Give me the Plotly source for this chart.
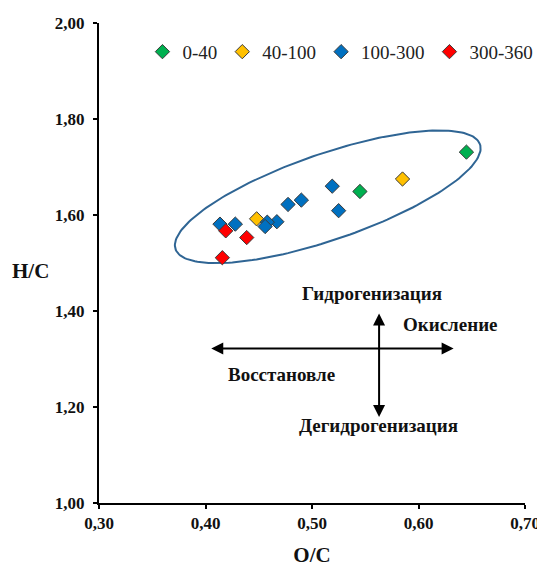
import numpy as np
import plotly.graph_objects as go

# ---- data ----
series_names = ["0-40", "40-100", "100-300", "300-360"]
series_colors = ["#00B050", "#FFC000", "#0070C0", "#FF0000"]
x_0_40 = [0.645, 0.545]
y_0_40 = [1.731, 1.649]
x_40_100 = [0.585, 0.448]
y_40_100 = [1.675, 1.592]
x_100_300 = [0.519, 0.525, 0.490, 0.4775, 0.467, 0.458, 0.456, 0.428, 0.4136]
y_100_300 = [1.660, 1.609, 1.631, 1.622, 1.586, 1.585, 1.576, 1.581, 1.581]
x_300_360 = [0.419, 0.4387, 0.4158]
y_300_360 = [1.567, 1.553, 1.511]
x_ticks = [0.30, 0.40, 0.50, 0.60, 0.70]
y_ticks = [1.00, 1.20, 1.40, 1.60, 1.80, 2.00]

xs = [x_0_40, x_40_100, x_100_300, x_300_360]
ys = [y_0_40, y_40_100, y_100_300, y_300_360]

# page body adds an 8px margin, so the figure is slightly smaller than the window
W, H = 537, 559
ML, MR, MT, MB = 91, 20, 15, 64
X_RANGE = [0.30, 0.70]
Y_RANGE = [1.00, 2.00]
PX_X = (W - ML - MR) / (X_RANGE[1] - X_RANGE[0])
PX_Y = (H - MT - MB) / (Y_RANGE[1] - Y_RANGE[0])

FONT = "Liberation Serif, Times New Roman, serif"

fig = go.Figure()

# ellipse (decoration)
cx, cy = 0.5148, 1.638
a_px, b_px, theta = 161.0, 43.0, np.deg2rad(19)
t = np.linspace(0, 2 * np.pi, 200)
dx = a_px * np.cos(t) * np.cos(theta) - b_px * np.sin(t) * np.sin(theta)
dy = a_px * np.cos(t) * np.sin(theta) + b_px * np.sin(t) * np.cos(theta)
fig.add_trace(go.Scatter(x=cx + dx / PX_X, y=cy + dy / PX_Y, mode="lines",
                         line=dict(color="#2F6594", width=2),
                         showlegend=False, hoverinfo="skip"))

for name, col, xv, yv in zip(series_names, series_colors, xs, ys):
    fig.add_trace(go.Scatter(x=xv, y=yv, mode="markers", name=name,
                             marker=dict(symbol="diamond", size=11, color=col,
                                         line=dict(color="#3A3A3A", width=1))))

# arrows
arrow_style = dict(showarrow=True, text="", arrowhead=2, arrowsize=1.2, arrowwidth=2,
                   arrowcolor="black", arrowside="end+start", axref="x", ayref="y",
                   xref="x", yref="y", standoff=0, startstandoff=0)
fig.add_annotation(x=0.633, y=1.322, ax=0.404, ay=1.322, **arrow_style)
fig.add_annotation(x=0.563, y=1.395, ax=0.563, ay=1.176, **arrow_style)

lab_font = dict(family=FONT, size=19, color="#111", weight="bold")
fig.add_annotation(x=0.556, y=1.437, text="Гидрогенизация", showarrow=False, font=lab_font)
fig.add_annotation(x=0.630, y=1.371, text="Окисление", showarrow=False, font=lab_font)
fig.add_annotation(x=0.471, y=1.267, text="Восстановле", showarrow=False, font=lab_font)
fig.add_annotation(x=0.562, y=1.161, text="Дегидрогенизация", showarrow=False, font=lab_font)

# y axis title (horizontal)
fig.add_annotation(x=-0.161, y=0.483, xref="paper", yref="paper", text="H/C",
                   showarrow=False, xanchor="center", yanchor="middle",
                   font=dict(family=FONT, size=21, color="#111", weight="bold"))

axis_common = dict(showgrid=False, zeroline=False, showline=True, linecolor="black",
                   linewidth=2, ticks="outside", ticklen=4, tickwidth=1.5, tickcolor="black",
                   tickformat=".2f", automargin=False,
                   tickfont=dict(family=FONT, size=17, color="#111", weight="bold"))

fig.update_layout(
    width=W, height=H,
    margin=dict(l=ML, r=MR, t=MT, b=MB, autoexpand=False),
    paper_bgcolor="white", plot_bgcolor="white",
    separators=", ",
    xaxis=dict(range=X_RANGE, tickvals=x_ticks,
               title=dict(text="O/C", standoff=28,
                          font=dict(family=FONT, size=21, color="#111", weight="bold")),
               **axis_common),
    yaxis=dict(range=Y_RANGE, tickvals=y_ticks, ticklabelstandoff=5, **axis_common),
    legend=dict(orientation="h", x=0.102, y=0.94, xanchor="left", yanchor="middle",
                font=dict(family=FONT, size=19, color="#222"),
                bgcolor="rgba(0,0,0,0)", itemwidth=30, tracegroupgap=0),
    showlegend=True,
)

fig.write_html("out.html")
